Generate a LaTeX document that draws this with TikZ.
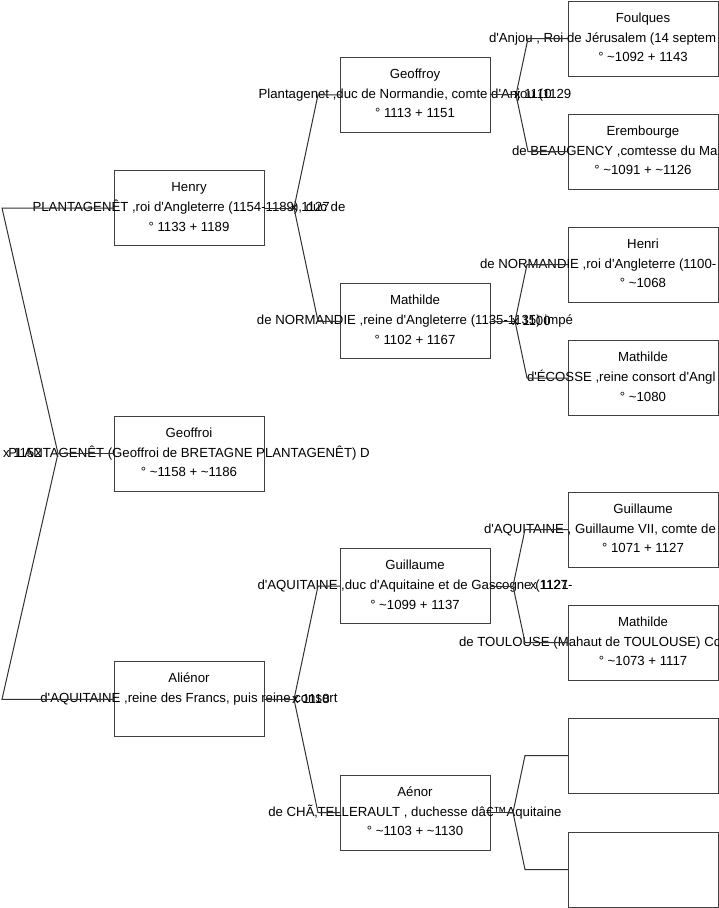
\documentclass[tikz,border=0pt]{standalone}
\usepackage{fontspec}
\newfontfamily\lsans{Liberation Sans}
\newcommand\fsz{\lsans\fontsize{13.2}{16}\selectfont}
\definecolor{boxc}{RGB}{64,64,64}
\definecolor{linec}{RGB}{50,50,50}
\newcommand\tld{\textasciitilde}
% person box: name, cx, cy, line1, line2, line3
\newcommand\pbox[6]{%
  \node[box] (#1) at (#2,#3) {};
  \node[txt] (#1-1) at ([yshift=16.3pt]#1.center) {#4};
  \node[txt] (#1-2) at ([yshift=-3.7pt]#1.center) {#5};
  \node[txt] (#1-3) at ([yshift=-23.2pt]#1.center) {#6};
}
% person box whose middle line starts at a given x
\newcommand\pboxw[7]{%
  \node[box] (#1) at (#2,#3) {};
  \node[txt] (#1-1) at ([yshift=16.3pt]#1.center) {#4};
  \node[txtw] (#1-2) at (#7,#3+3.7) {#5};
  \node[txt] (#1-3) at ([yshift=-23.2pt]#1.center) {#6};
}
\begin{document}
\begin{tikzpicture}[x=1pt,y=-1pt,
  box/.style={draw=boxc,line width=1pt,minimum width=150pt,minimum height=75pt,inner sep=0pt,outer sep=0pt},
  txt/.style={font=\fsz,inner sep=0pt,outer sep=0pt,anchor=base},
  txtw/.style={font=\fsz,inner sep=0pt,outer sep=0pt,anchor=base west},
  link/.style={draw=linec,line width=1pt},
  mlabel/.style={font=\fsz,inner sep=0pt,outer sep=0pt,anchor=base west}]
\useasboundingbox[fill=white] (0,0) rectangle (719,908);

% generation 1
\pbox{henry}{189}{208}{Henry}{PLANTAGENÊT ,roi d'Angleterre (1154-1189), duc de}{° 1133 + 1189}
\pbox{geoffroi}{189}{453.5}{Geoffroi}{PLANTAGENÊT (Geoffroi de BRETAGNE PLANTAGENÊT) D}{° \tld1158 + \tld1186}
\node[box] (alienor) at (189,699.25) {};
\node[txt] (alienor-1) at ([yshift=16.3pt]alienor.center) {Aliénor};
\node[txt] (alienor-2) at ([yshift=-3.7pt]alienor.center) {d'AQUITAINE ,reine des Francs, puis reine consort};

% generation 2
\pbox{geoffroy}{415}{94.75}{Geoffroy}{Plantagenet ,duc de Normandie, comte d'Anjou (1129}{° 1113 + 1151}
\pbox{mathilde}{415}{321.25}{Mathilde}{de NORMANDIE ,reine d'Angleterre (1135-1135) impé}{° 1102 + 1167}
\pbox{guillaume}{415}{586}{Guillaume}{d'AQUITAINE ,duc d'Aquitaine et de Gascogne (1127-}{° \tld1099 + 1137}
\pbox{aenor}{415}{812.5}{Aénor}{de CHÃ‚TELLERAULT , duchesse dâ€™Aquitaine}{° \tld1103 + \tld1130}

% generation 3
\pboxw{foulques}{643}{38.5}{Foulques}{d'Anjou , Roi de Jérusalem (14 septem}{° \tld1092 + 1143}{489}
\pboxw{erembourge}{643}{151.5}{Erembourge}{de BEAUGENCY ,comtesse du Ma}{° \tld1091 + \tld1126}{512}
\pboxw{henri}{643}{264.5}{Henri}{de NORMANDIE ,roi d'Angleterre (1100-}{° \tld1068}{480}
\pboxw{mathildeE}{643}{378}{Mathilde}{d'ÉCOSSE ,reine consort d'Angl}{° \tld1080}{527}
\pboxw{guillaumeIX}{643}{529.5}{Guillaume}{d'AQUITAINE , Guillaume VII, comte de}{° 1071 + 1127}{484}
\pboxw{mathildeT}{643}{642.5}{Mathilde}{de TOULOUSE (Mahaut de TOULOUSE) Co}{° \tld1073 + 1117}{459}
\node[box] (empty1) at (643,755.5) {};
\node[box] (empty2) at (643,869.5) {};

% left fork (Henry x Alienor -> Geoffroi)
\coordinate (lT) at (2,208);
\coordinate (lV) at (58,453.5);
\coordinate (lB) at (2,699.25);
\draw[link] (henry.west) -- (lT) -- (lV) -- (lB) -- (alienor.west);
\draw[link] (lV) -- (geoffroi.west);

% gen1 -> gen2 forks
\coordinate (fH) at (294,208);
\coordinate (fHa) at (318,94.75);
\coordinate (fHb) at (318,321.25);
\draw[link] (henry.east) -- (fH);
\draw[link] (geoffroy.west) -- (fHa) -- (fH) -- (fHb) -- (mathilde.west);
\coordinate (fA) at (294,699.25);
\coordinate (fAa) at (318,586);
\coordinate (fAb) at (318,812.5);
\draw[link] (alienor.east) -- (fA);
\draw[link] (guillaume.west) -- (fAa) -- (fA) -- (fAb) -- (aenor.west);

% gen2 -> gen3 forks
\coordinate (fG) at (516,94.75);
\coordinate (fGa) at (528,38.5);
\coordinate (fGb) at (528,151.5);
\draw[link] (geoffroy.east) -- (fG);
\draw[link] (foulques.west) -- (fGa) -- (fG) -- (fGb) -- (erembourge.west);
\coordinate (fM) at (515,321.25);
\coordinate (fMa) at (527,264.5);
\coordinate (fMb) at (527,378);
\draw[link] (mathilde.east) -- (fM);
\draw[link] (henri.west) -- (fMa) -- (fM) -- (fMb) -- (mathildeE.west);
\coordinate (fU) at (513,586);
\coordinate (fUa) at (525,529.5);
\coordinate (fUb) at (525,642.5);
\draw[link] (guillaume.east) -- (fU);
\draw[link] (guillaumeIX.west) -- (fUa) -- (fU) -- (fUb) -- (mathildeT.west);
\coordinate (fN) at (513,812.5);
\coordinate (fNa) at (525,755.5);
\coordinate (fNb) at (525,869.5);
\draw[link] (aenor.east) -- (fN);
\draw[link] (empty1.west) -- (fNa) -- (fN) -- (fNb) -- (empty2.west);

% marriage labels
\node[mlabel] (m1152) at (3,457.2) {x 1152};
\node[mlabel] (m1127) at (291,211.7) {x 1127};
\node[mlabel] (m1118) at (292,703) {x 1118};
\node[mlabel] (m1110) at (514,98.5) {x 1110};
\node[mlabel] (m1100) at (512,325) {x 1100};
\node[mlabel] (m1121) at (530,589.7) {x 1121};
\end{tikzpicture}
\end{document}
